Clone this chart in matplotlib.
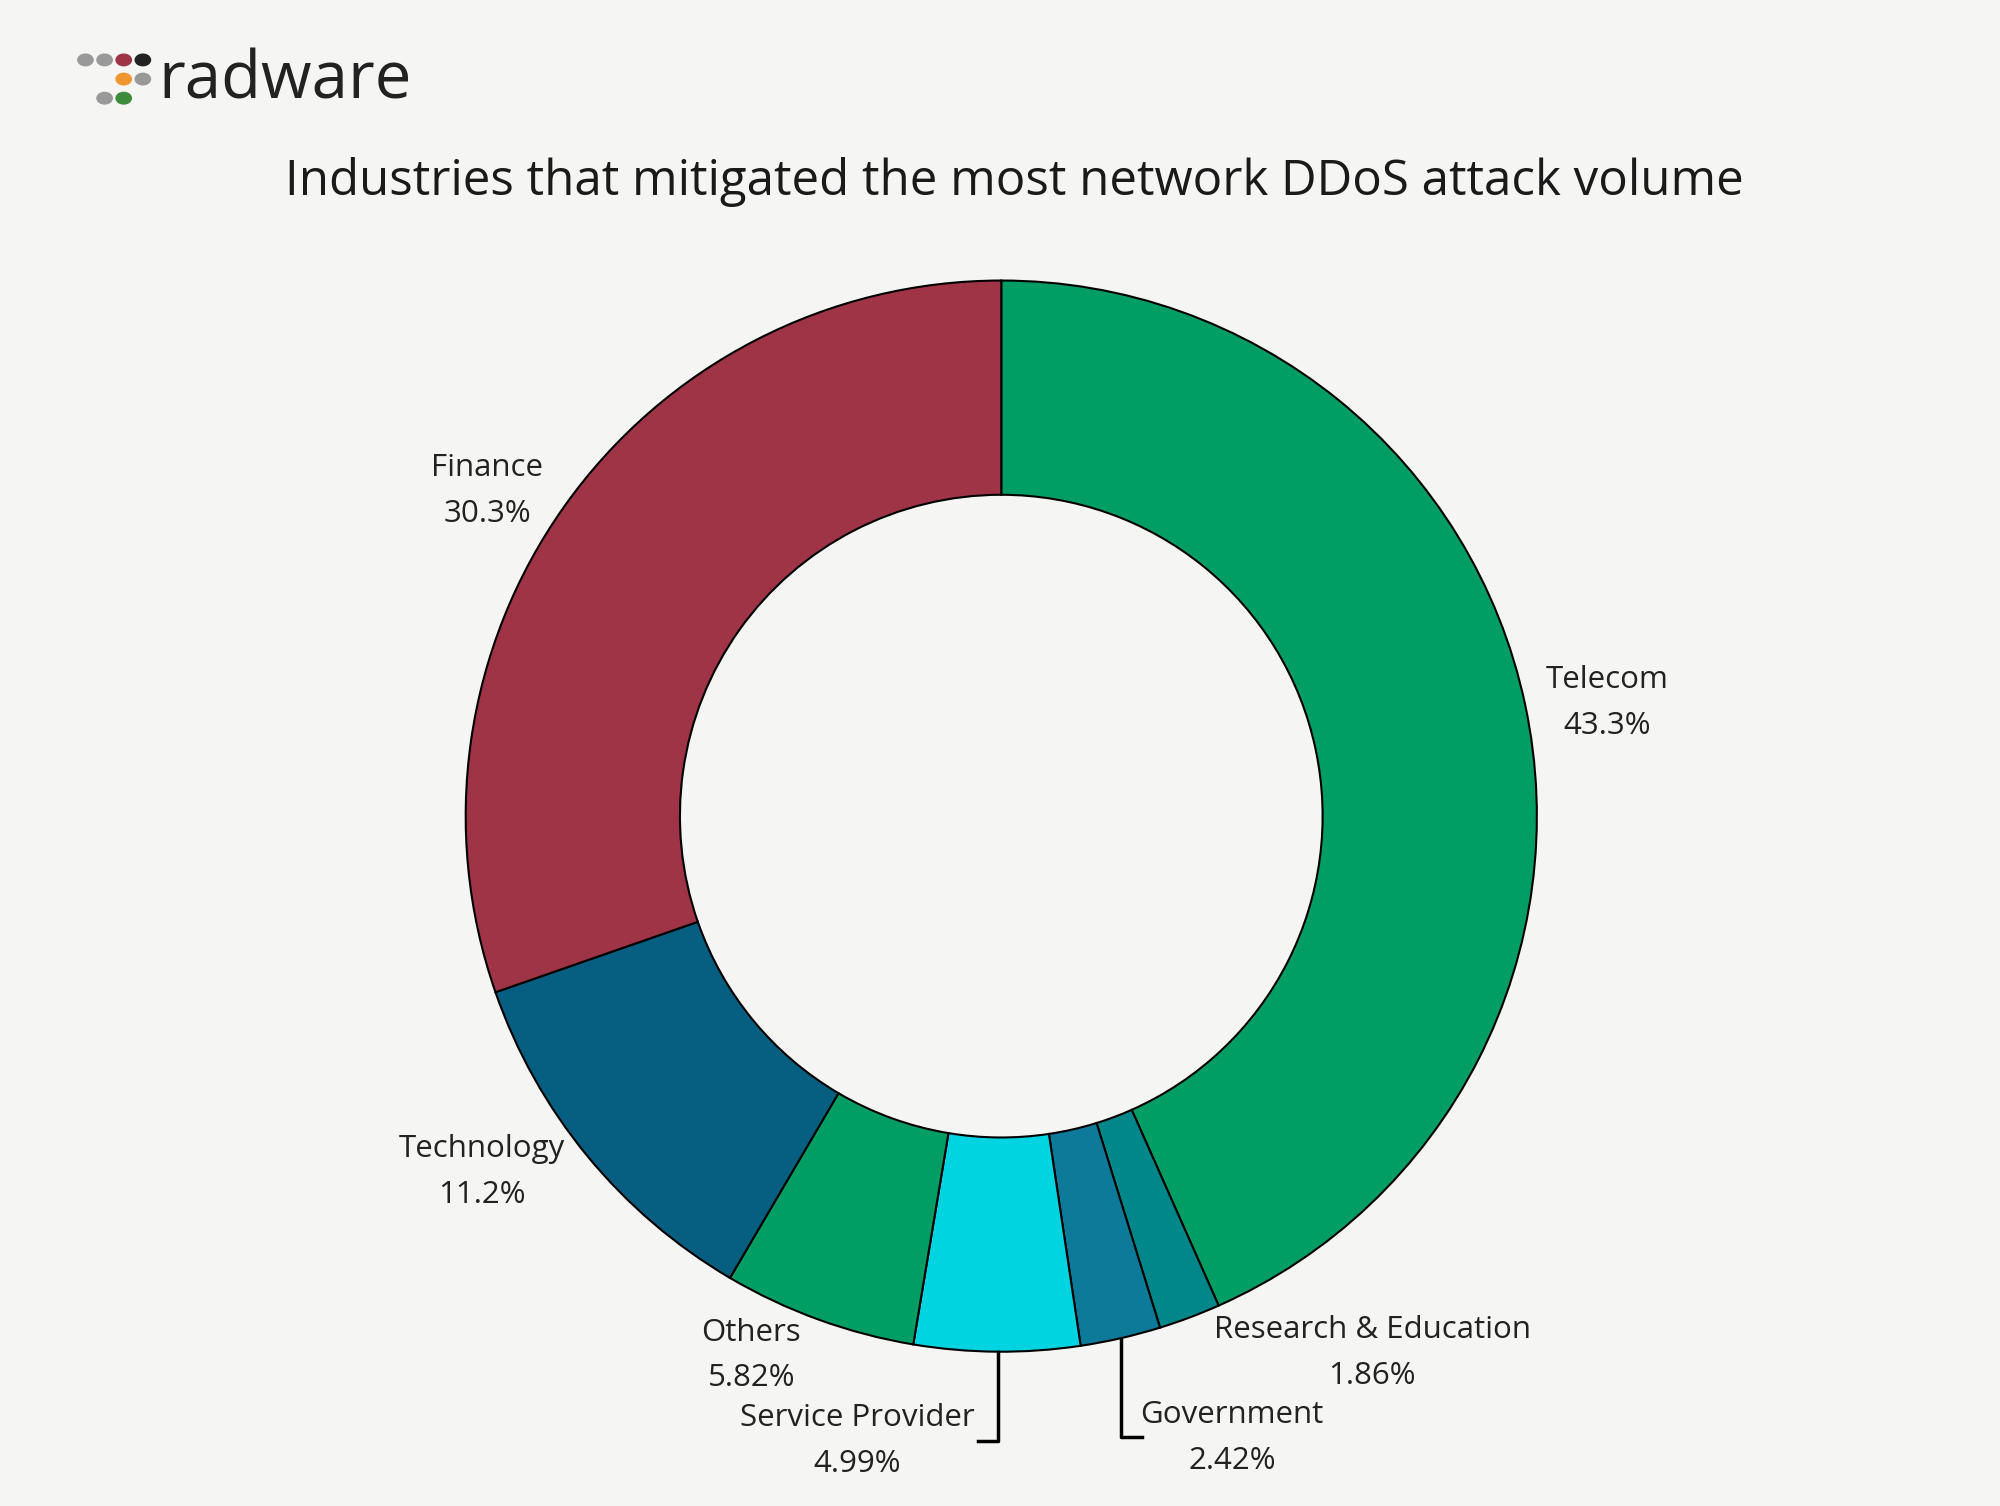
import matplotlib.pyplot as plt
from matplotlib.patches import Circle

# data, clockwise from 12 o'clock
industries = ['Telecom', 'Research & Education', 'Government', 'Service Provider',
              'Others', 'Technology', 'Finance']
shares = [43.3, 1.86, 2.42, 4.99, 5.82, 11.2, 30.3]
share_labels = ['43.3%', '1.86%', '2.42%', '4.99%', '5.82%', '11.2%', '30.3%']
colors = ['#009E65', '#00878A', '#0E7A99', '#00D4E0', '#009E65', '#065E80', '#A03447']

# label spots, measured in the 1568x1181 preview
label_xy = [(1260, 533), (1076, 1043), (966, 1110), (672, 1112),
            (589, 1045), (378, 901), (382, 367)]

W, H = 1568, 1181
bg = '#F5F5F3'
fig = plt.figure(figsize=(20, 15.06), dpi=100, facecolor=bg)

cx, cy, r = 785, 640, 420
ax = fig.add_axes([(cx - r) / W, 1 - (cy + r) / H, 2 * r / W, 2 * r / H])
ax.set_facecolor(bg)
ax.pie(shares, colors=colors, startangle=90, counterclock=False, radius=1,
       wedgeprops=dict(width=0.4, edgecolor='black', linewidth=1.5))
ax.set_xlim(-1, 1)
ax.set_ylim(-1, 1)
ax.set_aspect('equal')
ax.axis('off')

# leader brackets for the two small slices
ax.plot([-0.007, -0.007, -0.043], [-1.0, -1.167, -1.167], color='black', lw=2.5, clip_on=False)
ax.plot([0.224, 0.224, 0.262], [-0.976, -1.16, -1.16], color='black', lw=2.5, clip_on=False)

for name, pct, (x, y) in zip(industries, share_labels, label_xy):
    fig.text(x / W, 1 - y / H, name, ha='center', va='center', fontsize=22.5,
             family='Open Sans', color='#222222')
    fig.text(x / W, 1 - (y + 36) / H, pct, ha='center', va='center', fontsize=22.5,
             family='Open Sans', color='#222222')

fig.text(795 / W, 1 - 143 / H, 'Industries that mitigated the most network DDoS attack volume',
         ha='center', va='center', fontsize=35.5, family='Open Sans', color='#1a1a1a')

# logo
dots = [(67, 47, '#999999'), (82, 47, '#999999'), (97, 47, '#A03447'), (112, 47, '#222222'),
        (97, 62, '#F0962E'), (112, 62, '#999999'), (82, 77, '#999999'), (97, 77, '#3C8C3C')]
for x, y, c in dots:
    fig.patches.append(Circle((x / W, 1 - y / H), 6 / W, transform=fig.transFigure,
                              color=c))
fig.text(124 / W, 1 - 64 / H, 'radware', ha='left', va='center', fontsize=47,
         family='Open Sans', color='#222222')

fig.savefig('out.png', dpi=100, facecolor=bg)
